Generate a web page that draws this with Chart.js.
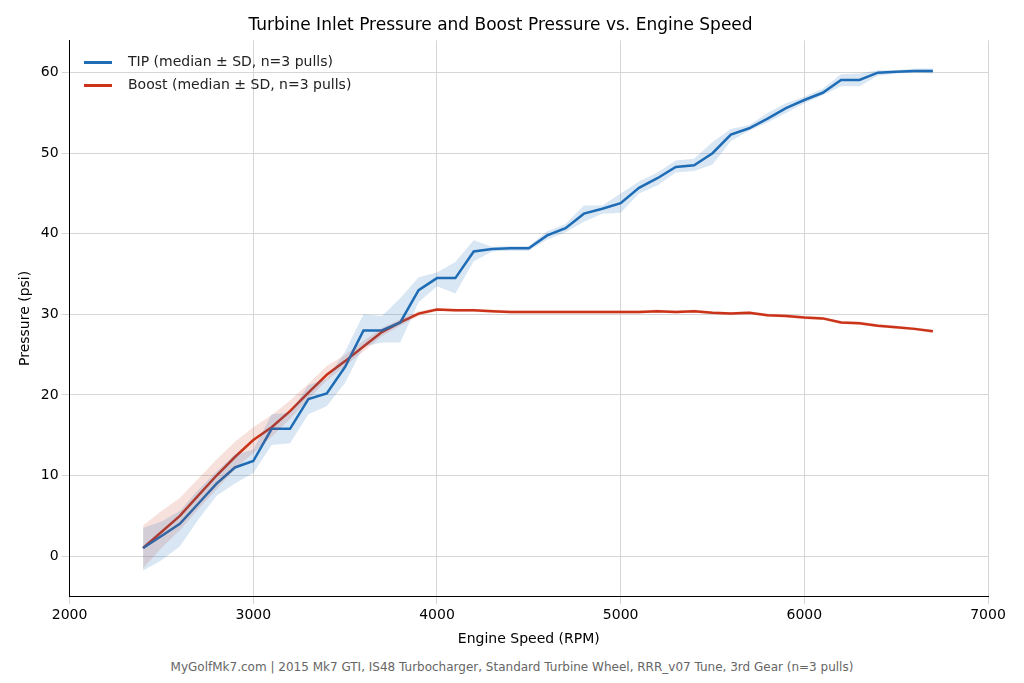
<!DOCTYPE html>
<html>
<head>
<meta charset="utf-8">
<script src="https://cdn.jsdelivr.net/npm/chart.js@4"></script>
<style>
  body { margin: 0; background: #fff; font-family: "DejaVu Sans", sans-serif; }
  #wrap { position: relative; width: 1024px; height: 652px; }
  #caption { width: 1024px; text-align: center; font-size: 12px; color: #666; margin-top: 8px; }
  #legend { position: absolute; left: 84px; top: 50px; font-size: 14px; color: #222; line-height: 23px; }
  #legend span.sw { display: inline-block; width: 28px; height: 3px; vertical-align: middle; margin-right: 16px; }
</style>
</head>
<body>
<div id="wrap"><canvas id="chart"></canvas>
  <div id="legend">
    <div><span class="sw" style="background:#1f6db5"></span>TIP (median ± SD, n=3 pulls)</div>
    <div><span class="sw" style="background:#cc3319"></span>Boost (median ± SD, n=3 pulls)</div>
  </div>
</div>
<div id="caption">MyGolfMk7.com | 2015 Mk7 GTI, IS48 Turbocharger, Standard Turbine Wheel, RRR_v07 Tune, 3rd Gear (n=3 pulls)</div>
<script>
const rpm = [2400,2500,2600,2700,2800,2900,3000,3100,3200,3300,3400,3500,3600,3700,3800,3900,4000,4100,4200,4300,4400,4500,
  4600,4700,4800,4900,5000,5100,5200,5300,5400,5500,5600,5700,5800,5900,6000,6100,6200,6300,6400,6500,6600,6700];
const tipMedian = [1.0,2.5,4.0,6.5,9.0,11.0,11.8,15.8,15.8,19.5,20.2,23.5,28.0,28.0,29.0,33.0,34.5,34.5,37.8,38.1,38.2,38.2,
  39.8,40.7,42.5,43.1,43.8,45.7,46.9,48.3,48.5,50.0,52.3,53.1,54.3,55.6,56.6,57.5,59.1,59.1,60.0,60.1,60.2,60.2];
const tipLow = [-1.8,-0.5,1.2,4.5,7.5,9.0,10.3,13.8,14.0,17.6,18.6,21.5,26.0,26.5,26.5,31.5,33.5,32.6,36.6,37.8,37.9,37.9,
  39.3,40.2,41.5,42.5,42.6,45.0,46.0,47.6,47.8,48.6,51.5,52.8,53.8,55.0,56.2,57.2,58.3,58.3,59.6,59.9,60.0,59.9];
const tipHigh = [3.5,4.3,5.6,8.2,10.5,12.6,13.2,17.6,17.8,21.2,22.0,25.4,30.0,29.8,32.0,34.6,35.2,36.5,39.2,38.4,38.5,38.5,
  40.3,41.2,43.5,43.5,45.0,46.5,47.6,49.1,49.3,51.4,53.0,53.5,55.0,56.2,57.0,58.0,59.8,59.9,60.3,60.3,60.5,60.5];
const boostMedian = [1.0,3.0,5.0,7.5,10.0,12.3,14.4,16.0,18.0,20.3,22.5,24.2,26.0,27.8,29.0,30.1,30.6,30.5,30.5,30.4,30.3,30.3,
  30.3,30.3,30.3,30.3,30.3,30.3,30.4,30.3,30.4,30.2,30.1,30.2,29.9,29.8,29.6,29.5,29.0,28.9,28.6,28.4,28.2,27.9];
const boostLow = [-1.5,1.0,3.2,5.8,8.3,10.8,12.8,14.8,17.0,19.5,21.8,23.6,25.4,27.3,28.6,29.8,30.4,30.3,30.3,30.2,30.1,30.1,
  30.1,30.1,30.1,30.1,30.1,30.1,30.2,30.1,30.2,30.0,29.9,30.0,29.7,29.6,29.4,29.3,28.8,28.7,28.4,28.2,28.0,27.7];
const boostHigh = [3.8,5.6,7.2,9.6,12.0,14.2,16.0,17.5,19.3,21.4,23.6,25.0,26.7,28.3,29.4,30.4,30.8,30.7,30.7,30.6,30.5,30.5,
  30.5,30.5,30.5,30.5,30.5,30.5,30.6,30.5,30.6,30.4,30.3,30.4,30.1,30.0,29.8,29.7,29.2,29.1,28.8,28.6,28.4,28.1];
const xTicks = [2000,3000,4000,5000,6000,7000];
const yTicks = [0,10,20,30,40,50,60];

const pts = arr => arr.map((v, i) => ({ x: rpm[i], y: v }));
const blue = '#1f6db5', red = '#cc3319';

new Chart(document.getElementById('chart'), {
  type: 'line',
  data: {
    datasets: [
      { data: pts(tipLow), borderWidth: 0, pointRadius: 0, fill: false },
      { data: pts(tipHigh), borderWidth: 0, pointRadius: 0, fill: '-1', backgroundColor: 'rgba(31,109,181,0.17)' },
      { data: pts(boostLow), borderWidth: 0, pointRadius: 0, fill: false },
      { data: pts(boostHigh), borderWidth: 0, pointRadius: 0, fill: '-1', backgroundColor: 'rgba(204,51,25,0.15)' },
      { label: 'TIP (median \u00b1 SD, n=3 pulls)', data: pts(tipMedian), borderColor: blue, borderWidth: 2.5, pointRadius: 0, fill: false },
      { label: 'Boost (median \u00b1 SD, n=3 pulls)', data: pts(boostMedian), borderColor: red, borderWidth: 2.5, pointRadius: 0, fill: false }
    ]
  },
  options: {
    responsive: true,
    maintainAspectRatio: false,
    animation: false,
    layout: { padding: { left: 13, right: 36, top: 0, bottom: 0 } },
    plugins: {
      title: { display: true, text: 'Turbine Inlet Pressure and Boost Pressure vs. Engine Speed', color: '#000',
        font: { family: 'DejaVu Sans', size: 17, weight: 'normal' }, padding: { top: 15, bottom: 5 } },
      legend: { display: false },
      tooltip: { enabled: false }
    },
    scales: {
      x: {
        type: 'linear', min: 2000, max: 7000,
        afterBuildTicks: s => { s.ticks = xTicks.map(v => ({ value: v })); },
        title: { display: true, text: 'Engine Speed (RPM)', color: '#000', font: { family: 'DejaVu Sans', size: 14 } },
        ticks: { color: '#000', font: { family: 'DejaVu Sans', size: 14 }, callback: v => String(v) },
        grid: { color: '#d6d6d6' },
        border: { color: '#000', width: 1 }
      },
      y: {
        min: -5, max: 64,
        afterBuildTicks: s => { s.ticks = yTicks.map(v => ({ value: v })); },
        title: { display: true, text: 'Pressure (psi)', color: '#000', font: { family: 'DejaVu Sans', size: 14 } },
        ticks: { color: '#000', font: { family: 'DejaVu Sans', size: 14 }, callback: v => String(v) },
        grid: { color: '#d6d6d6' },
        border: { color: '#000', width: 1 }
      }
    }
  }
});
</script>
</body>
</html>
